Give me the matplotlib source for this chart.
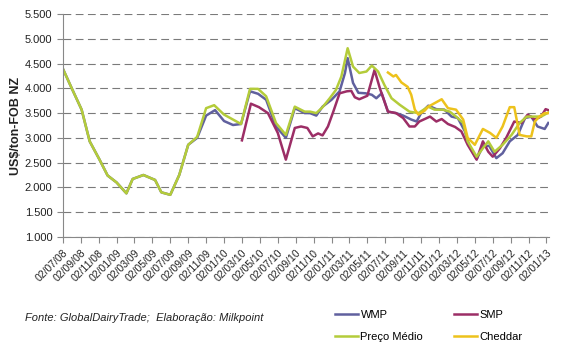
# Precos GDT - WMP, SMP, Preco Medio e Cheddar (US$/ton FOB NZ)
import numpy as np
import matplotlib.pyplot as plt
from matplotlib.ticker import FuncFormatter

plt.rcParams['font.family'] = ['Liberation Sans', 'DejaVu Sans']

# meses contados a partir de 02/07/08
tick_labels = ['02/07/08', '02/09/08', '02/11/08', '02/01/09', '02/03/09', '02/05/09',
               '02/07/09', '02/09/09', '02/11/09', '02/01/10', '02/03/10', '02/05/10',
               '02/07/10', '02/09/10', '02/11/10', '02/01/11', '02/03/11', '02/05/11',
               '02/07/11', '02/09/11', '02/11/11', '02/01/12', '02/03/12', '02/05/12',
               '02/07/12', '02/09/12', '02/11/12', '02/01/13']

x_medio = [0, 1, 2.1, 3, 4.1, 5, 6, 7.1, 7.8, 9, 10.3, 11, 12, 13, 14, 15, 16, 16.9, 18, 19,
           19.9, 20.9, 21.8, 22.7, 23.8, 24.9, 25.9, 27, 27.6, 28.3, 29, 29.8, 30.5, 31.1,
           31.8, 32.4, 33.1, 33.9, 34.5, 35.2, 35.9, 36.7, 37.6, 38.7, 39.7, 40.8, 41.5,
           42.4, 43.2, 43.9, 44.7, 45.2, 46.2, 46.9, 47.5, 48.2, 49.1, 50.1, 51, 51.8,
           52.7, 53.4, 54.2]
y_medio = [4400, 4000, 3570, 2930, 2560, 2240, 2100, 1880, 2170, 2250, 2150, 1900, 1850,
           2250, 2860, 3020, 3600, 3660, 3470, 3370, 3280, 3990, 3990, 3840, 3300, 3060,
           3630, 3530, 3530, 3500, 3620, 3800, 3970, 4240, 4810, 4440, 4310, 4340, 4460,
           4340, 4070, 3800, 3670, 3530, 3500, 3630, 3570, 3570, 3530, 3430, 3300, 2930,
           2620, 2790, 2930, 2720, 2860, 3060, 3300, 3430, 3430, 3430, 3510]

x_wmp = [0, 1, 2.1, 3, 4.1, 5, 6, 7.1, 7.8, 9, 10.3, 11, 12, 13, 14, 15, 16, 17, 18, 19,
         19.9, 20.9, 21.8, 22.7, 23.8, 24.9, 25.9, 27, 27.6, 28.3, 29, 30, 30.9, 31.5, 31.8,
         32.4, 33, 33.8, 34.5, 35, 35.6, 36.3, 37.2, 38, 38.9, 39.5, 40, 40.8, 41.7, 42.6,
         43.4, 44.1, 44.9, 45.4, 46.2, 46.9, 47.6, 48.4, 49.1, 49.9, 50.8, 51.6, 52.3, 53,
         53.8, 54.2]
y_wmp = [4400, 4000, 3570, 2930, 2560, 2240, 2100, 1880, 2170, 2250, 2150, 1900, 1850,
         2250, 2860, 3000, 3450, 3560, 3340, 3260, 3280, 3940, 3890, 3770, 3230, 3000, 3600,
         3500, 3500, 3450, 3630, 3770, 3940, 4310, 4610, 4110, 3910, 3900, 3870, 3800, 3900,
         3530, 3500, 3450, 3370, 3330, 3500, 3650, 3580, 3570, 3430, 3400, 3130, 2830, 2570,
         2830, 2840, 2590, 2690, 2930, 3060, 3400, 3430, 3230, 3180, 3300]

x_smp = [20, 21, 21.9, 22.9, 24, 24.9, 25.9, 26.6, 27.3, 27.9, 28.5, 29, 29.6, 30.2, 30.9,
         31.7, 32.2, 32.6, 33.1, 34, 34.8, 35.4, 36.3, 37.2, 38, 38.7, 39.3, 39.8, 41, 41.7,
         42.3, 43, 43.8, 44.5, 45.2, 46.2, 46.9, 47.5, 48, 48.8, 49.5, 50.4, 51.2, 51.9,
         52.7, 53.4, 53.9, 54.2]
y_smp = [2950, 3690, 3620, 3500, 3100, 2560, 3200, 3230, 3200, 3030, 3090, 3050, 3230,
         3530, 3900, 3940, 3950, 3820, 3780, 3850, 4370, 4000, 3530, 3500, 3400, 3230, 3230,
         3330, 3430, 3330, 3380, 3280, 3220, 3130, 2860, 2560, 2930, 2720, 2620, 2790, 3000,
         3330, 3300, 3470, 3370, 3430, 3580, 3560]

x_cheddar = [36.3, 36.9, 37.2, 37.8, 38.5, 38.9, 39.3, 39.7, 40.4, 40.8, 41.5, 42.3, 43,
             43.9, 44.7, 45.2, 46, 46.9, 47.7, 48.4, 49.1, 49.9, 50.4, 51, 51.8, 52.3, 52.7,
             53.2, 53.8, 54.2]
y_cheddar = [4320, 4240, 4270, 4120, 4030, 3870, 3570, 3470, 3550, 3630, 3700, 3780, 3600,
             3570, 3370, 3000, 2860, 3180, 3100, 3000, 3230, 3620, 3620, 3060, 3030, 3030,
             3330, 3430, 3500, 3500]

fig = plt.figure(figsize=(5.71, 3.52), dpi=100)
ax = fig.add_axes([0.110, 0.327, 0.851, 0.633])

ax.plot(x_wmp, y_wmp, color='#60609E', lw=1.8, label='WMP')
ax.plot(x_smp, y_smp, color='#9C2E66', lw=1.8, label='SMP')
ax.plot(x_medio, y_medio, color='#B4CC3A', lw=1.8, label='Preço Médio')
ax.plot(x_cheddar, y_cheddar, color='#EDC21C', lw=1.8, label='Cheddar')

ax.set_xlim(0, 54.25)
ax.set_ylim(1000, 5500)
ax.set_yticks(np.arange(1000, 5501, 500))
ax.yaxis.set_major_formatter(FuncFormatter(lambda v, p: f'{v/1000:.3f}'))
ax.set_xticks(np.arange(0, 55, 2))
ax.set_xticklabels(tick_labels, rotation=45, ha='right', rotation_mode='anchor')

ax.grid(axis='y', color='#7a7a7a', lw=0.8, ls=(0, (7, 4)))
ax.set_axisbelow(True)
for s in ['top', 'right']:
    ax.spines[s].set_visible(False)
for s in ['left', 'bottom']:
    ax.spines[s].set_color('#888888')
ax.tick_params(axis='both', colors='#888888', labelcolor='#222222', labelsize=8, length=4)
ax.tick_params(axis='x', labelsize=7.5, pad=4)

ax.set_ylabel('US$/ton-FOB NZ', fontsize=9, fontweight='bold', color='#222222', labelpad=2)

fig.text(0.044, 0.098, 'Fonte: GlobalDairyTrade;  Elaboração: Milkpoint', fontsize=8,
         style='italic', color='#222222', va='center')

h, l = ax.get_legend_handles_labels()
order = [0, 2, 1, 3]
fig.legend([h[i] for i in order], [l[i] for i in order], ncol=2, frameon=False,
           fontsize=8, handlelength=2.1, handletextpad=0.2, columnspacing=2.76,
           labelspacing=1.07, loc='upper left', bbox_to_anchor=(0.569, 0.148))

fig.savefig('out.png', dpi=100)
